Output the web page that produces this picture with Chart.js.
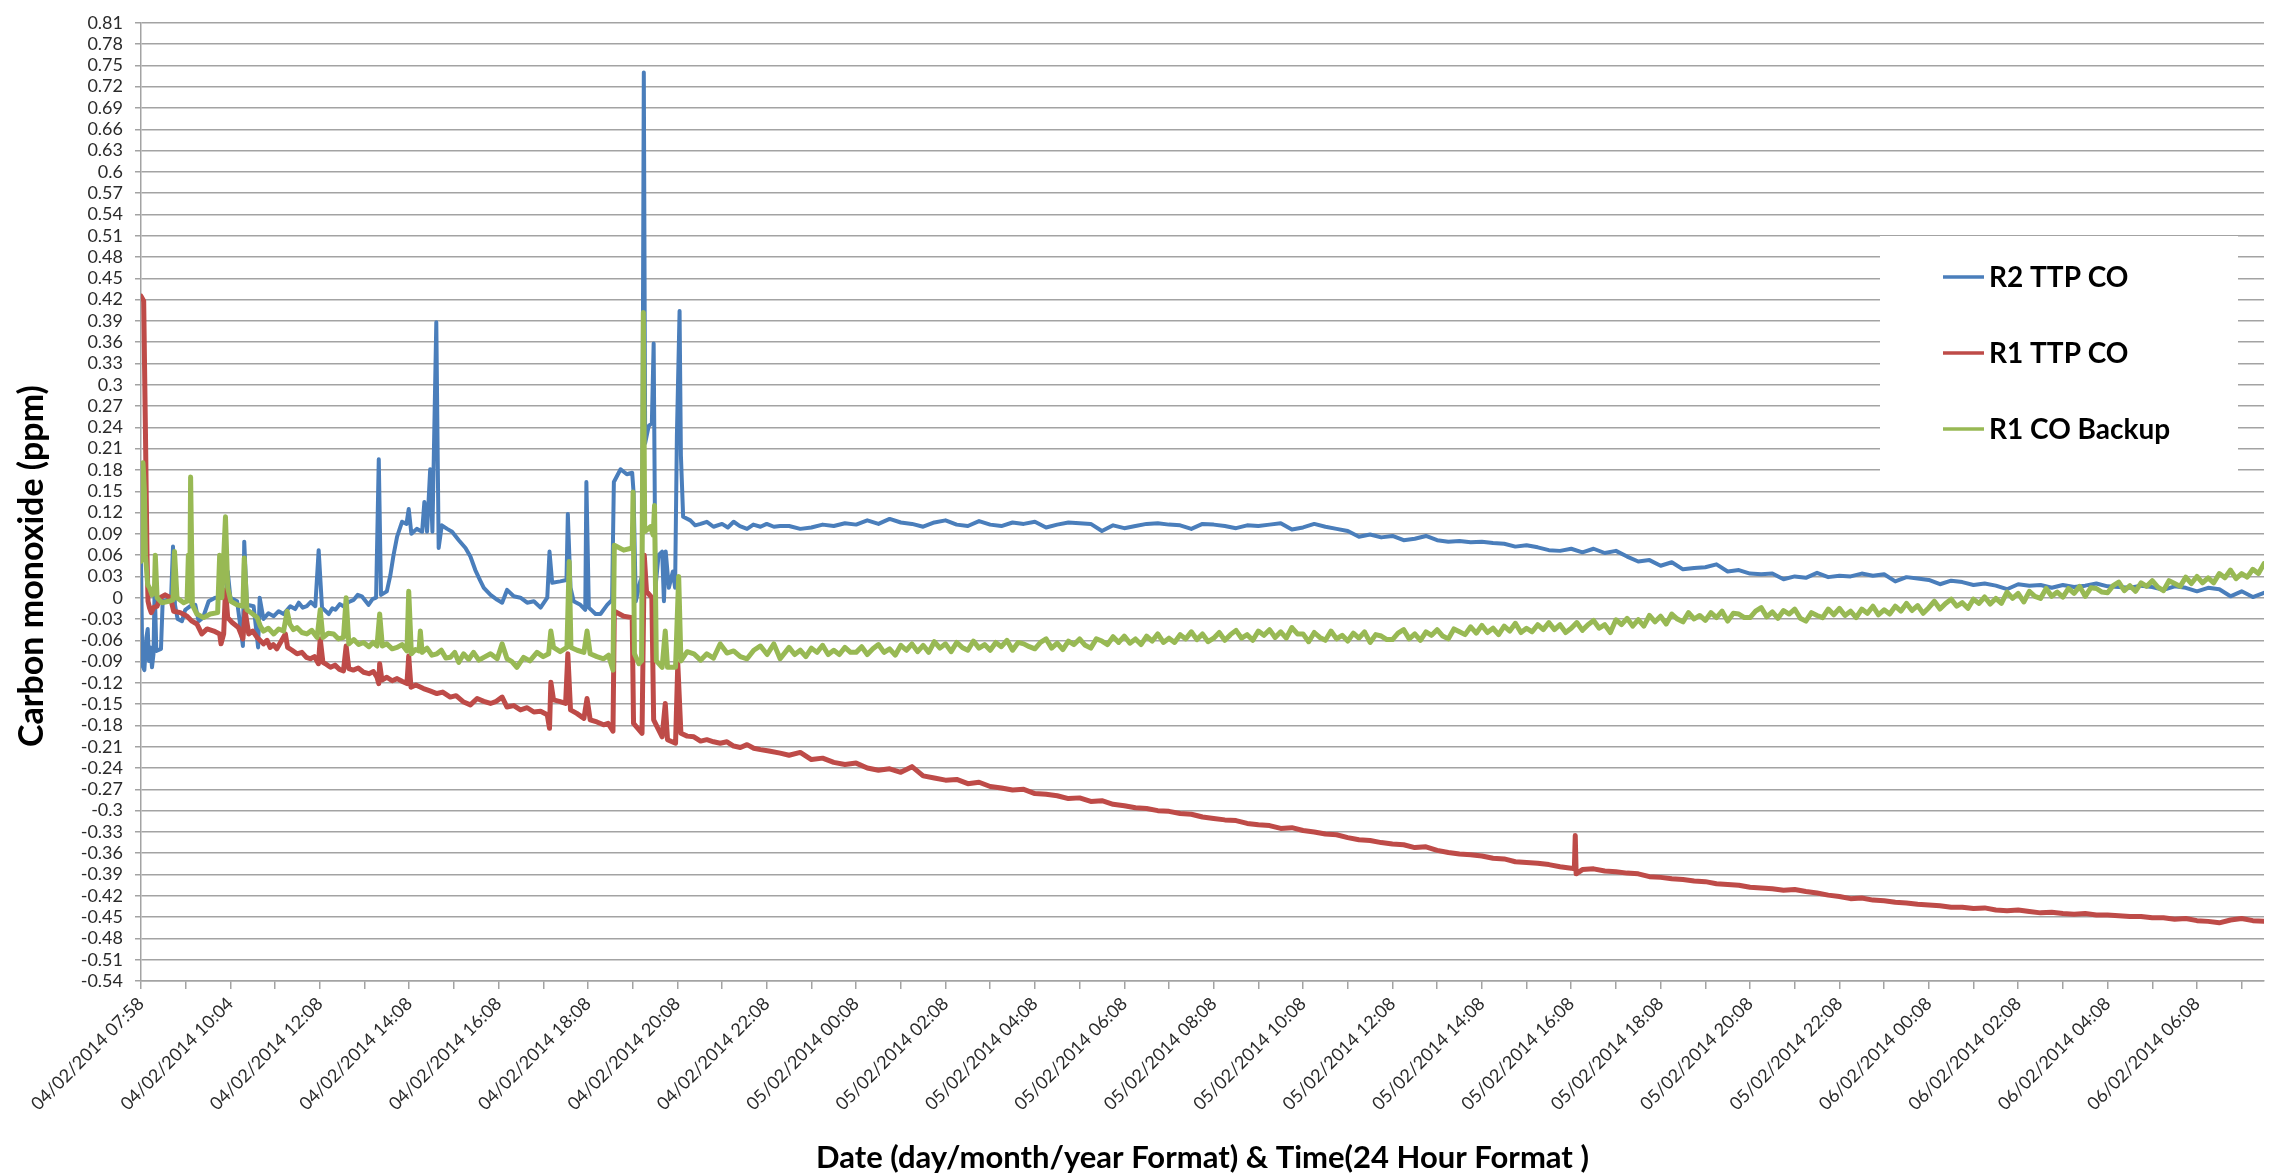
<!DOCTYPE html>
<html>
<head>
<meta charset="utf-8">
<title>Carbon monoxide</title>
<script src="https://cdn.jsdelivr.net/npm/chart.js@4.4.1/dist/chart.umd.min.js"></script>
<style>
    html, body { margin: 0; padding: 0; background: #fff; }
    #wrap { width: 2275px; height: 1176px; position: relative; }
</style>
</head>
<body>
<div id="wrap"><canvas id="chart"></canvas></div>
<script>
/**
 * CO readings.
 * x is the position on the category axis in tick units (one tick ~ one hour,
 * label every second tick), y is ppm.
 */

const xLabels = [
    '04/02/2014 07:58', '04/02/2014 10:04', '04/02/2014 12:08', '04/02/2014 14:08',
    '04/02/2014 16:08', '04/02/2014 18:08', '04/02/2014 20:08', '04/02/2014 22:08',
    '05/02/2014 00:08', '05/02/2014 02:08', '05/02/2014 04:08', '05/02/2014 06:08',
    '05/02/2014 08:08', '05/02/2014 10:08', '05/02/2014 12:08', '05/02/2014 14:08',
    '05/02/2014 16:08', '05/02/2014 18:08', '05/02/2014 20:08', '05/02/2014 22:08',
    '06/02/2014 00:08', '06/02/2014 02:08', '06/02/2014 04:08', '06/02/2014 06:08'
];

const seriesNames = ['R2 TTP CO', 'R1 TTP CO', 'R1 CO Backup'];

// first ~14 hours, irregular sampling so the spikes keep their shape
const r2Early = [
    [0, 0.051], [0.03, -0.095], [0.075, -0.102], [0.12, -0.056], [0.15, -0.044], [0.18, -0.089],
    [0.21, -0.070], [0.246, -0.098], [0.28, -0.079], [0.306, 0.018], [0.343, -0.075], [0.447, -0.072],
    [0.485, -0.005], [0.58, -0.003], [0.67, -0.005], [0.716, 0.072], [0.76, -0.010], [0.82, -0.030],
    [0.917, -0.033], [0.99, -0.017], [1.10, -0.012], [1.215, -0.010], [1.29, -0.033], [1.387, -0.028],
    [1.514, -0.005], [1.66, 0.0], [1.81, 0.0], [1.91, 0.007], [1.94, 0.037], [2.0, 0.0],
    [2.15, -0.005], [2.28, -0.068], [2.31, 0.079], [2.37, -0.010], [2.52, -0.012], [2.62, -0.070],
    [2.655, 0.0], [2.74, -0.030], [2.85, -0.022], [2.97, -0.026], [3.08, -0.019], [3.19, -0.023],
    [3.34, -0.012], [3.45, -0.016], [3.53, -0.007], [3.62, -0.014], [3.71, -0.012], [3.80, -0.006],
    [3.90, -0.012], [3.975, 0.067], [4.05, -0.014], [4.20, -0.023], [4.28, -0.015], [4.35, -0.017],
    [4.45, -0.009], [4.53, -0.012], [4.65, -0.006], [4.76, -0.003], [4.85, 0.004], [4.94, 0.002],
    [5.09, -0.010], [5.18, -0.002], [5.26, 0.0], [5.32, 0.195], [5.37, 0.004], [5.50, 0.009],
    [5.58, 0.032], [5.65, 0.060], [5.73, 0.086], [5.84, 0.107], [5.94, 0.104], [5.99, 0.125],
    [6.05, 0.090], [6.17, 0.097], [6.29, 0.093], [6.34, 0.135], [6.40, 0.093], [6.47, 0.181],
    [6.52, 0.093], [6.607, 0.388], [6.66, 0.070], [6.73, 0.102], [6.85, 0.097], [6.96, 0.093],
    [7.11, 0.081], [7.26, 0.070], [7.37, 0.058], [7.48, 0.039], [7.59, 0.024], [7.67, 0.014],
    [7.82, 0.004], [7.97, -0.003], [8.08, -0.007], [8.19, 0.011], [8.34, 0.002], [8.49, 0.0],
    [8.64, -0.007], [8.79, -0.005], [8.94, -0.014], [9.09, 0.0], [9.14, 0.065], [9.20, 0.021],
    [9.38, 0.023], [9.52, 0.025], [9.55, 0.118], [9.61, 0.014], [9.68, -0.005], [9.83, -0.010],
    [9.94, -0.017], [9.965, 0.163], [10.02, -0.014], [10.17, -0.023], [10.28, -0.023], [10.43, -0.010],
    [10.54, -0.003], [10.58, 0.163], [10.73, 0.181], [10.87, 0.174], [10.99, 0.176], [11.02, 0.149],
    [11.07, -0.005], [11.17, 0.023], [11.21, 0.030], [11.25, 0.740], [11.28, 0.218], [11.36, 0.242],
    [11.43, 0.246], [11.47, 0.358], [11.51, 0.014], [11.58, 0.060], [11.66, 0.065], [11.70, -0.005],
    [11.74, 0.065], [11.81, 0.014], [11.90, 0.037], [11.95, 0.014], [11.99, 0.228], [12.05, 0.404],
    [12.08, 0.200], [12.13, 0.114], [12.29, 0.109], [12.40, 0.102], [12.52, 0.104], [12.66, 0.107],
    [12.81, 0.100], [13.0, 0.104], [13.13, 0.099], [13.26, 0.107], [13.40, 0.101], [13.56, 0.097],
    [13.70, 0.103], [13.86, 0.100], [14.0, 0.104], [14.16, 0.100], [14.3, 0.101]
];

const r1Early = [
    [0, 0.425], [0.06, 0.418], [0.097, 0.246], [0.134, 0.060], [0.157, -0.005], [0.19, -0.014],
    [0.23, -0.021], [0.28, -0.014], [0.36, -0.012], [0.43, 0.0], [0.54, 0.004], [0.66, 0.0],
    [0.73, -0.019], [0.88, -0.021], [1.03, -0.026], [1.14, -0.033], [1.25, -0.037], [1.36, -0.051],
    [1.48, -0.044], [1.63, -0.047], [1.76, -0.051], [1.79, -0.065], [1.85, -0.051], [1.89, 0.011],
    [1.94, -0.028], [2.04, -0.035], [2.18, -0.042], [2.28, -0.058], [2.33, -0.019], [2.41, -0.051],
    [2.50, -0.047], [2.60, -0.056], [2.74, -0.065], [2.82, -0.060], [2.89, -0.070], [2.96, -0.066],
    [3.04, -0.072], [3.23, -0.051], [3.28, -0.070], [3.38, -0.074], [3.49, -0.079], [3.60, -0.077],
    [3.70, -0.084], [3.79, -0.086], [3.88, -0.083], [3.97, -0.093], [4.01, -0.058], [4.07, -0.091],
    [4.15, -0.094], [4.24, -0.098], [4.34, -0.095], [4.44, -0.101], [4.53, -0.103], [4.59, -0.068],
    [4.65, -0.100], [4.75, -0.102], [4.86, -0.099], [4.98, -0.105], [5.10, -0.107], [5.20, -0.104],
    [5.28, -0.112], [5.32, -0.121], [5.34, -0.093], [5.39, -0.116], [5.50, -0.112], [5.62, -0.117],
    [5.73, -0.114], [5.85, -0.118], [5.95, -0.121], [5.99, -0.082], [6.04, -0.126], [6.15, -0.123],
    [6.32, -0.128], [6.45, -0.131], [6.62, -0.135], [6.75, -0.133], [6.92, -0.140], [7.05, -0.138],
    [7.22, -0.147], [7.37, -0.151], [7.52, -0.142], [7.67, -0.146], [7.82, -0.149], [7.95, -0.146],
    [8.08, -0.140], [8.19, -0.154], [8.34, -0.152], [8.49, -0.158], [8.64, -0.155], [8.79, -0.161],
    [8.94, -0.160], [9.09, -0.165], [9.14, -0.184], [9.17, -0.119], [9.23, -0.144], [9.36, -0.146],
    [9.50, -0.149], [9.55, -0.079], [9.61, -0.158], [9.75, -0.163], [9.91, -0.170], [9.98, -0.142],
    [10.05, -0.172], [10.20, -0.175], [10.35, -0.179], [10.45, -0.177], [10.56, -0.188], [10.59, -0.019],
    [10.80, -0.026], [10.99, -0.028], [11.02, -0.177], [11.21, -0.191], [11.26, 0.060], [11.31, 0.009],
    [11.43, 0.0], [11.47, -0.172], [11.66, -0.196], [11.73, -0.149], [11.78, -0.200], [11.96, -0.205],
    [12.01, -0.093], [12.08, -0.191], [12.22, -0.195], [12.37, -0.196], [12.52, -0.202], [12.66, -0.200],
    [12.81, -0.203], [12.96, -0.205], [13.11, -0.203], [13.26, -0.209], [13.41, -0.211], [13.56, -0.207],
    [13.71, -0.212], [13.86, -0.214], [14.05, -0.216], [14.3, -0.219]
];

const backupEarly = [
    [0, 0.051], [0.045, 0.190], [0.075, 0.153], [0.10, 0.060], [0.15, 0.018], [0.19, 0.014],
    [0.246, 0.004], [0.30, 0.009], [0.32, 0.060], [0.36, 0.0], [0.47, -0.007], [0.62, -0.005],
    [0.716, -0.003], [0.75, 0.065], [0.805, 0.0], [0.955, -0.007], [1.03, -0.005], [1.06, 0.060],
    [1.09, -0.005], [1.11, 0.170], [1.15, -0.010], [1.25, -0.023], [1.40, -0.028], [1.55, -0.023],
    [1.715, -0.021], [1.76, 0.060], [1.81, 0.0], [1.89, 0.114], [1.94, 0.014], [2.01, -0.005],
    [2.15, -0.010], [2.28, -0.012], [2.31, 0.056], [2.37, -0.017], [2.48, -0.022], [2.60, -0.028],
    [2.67, -0.040], [2.74, -0.047], [2.85, -0.043], [2.97, -0.051], [3.08, -0.044], [3.19, -0.047],
    [3.27, -0.019], [3.33, -0.037], [3.41, -0.045], [3.49, -0.042], [3.60, -0.049], [3.71, -0.051],
    [3.82, -0.046], [3.94, -0.056], [4.01, -0.017], [4.07, -0.056], [4.19, -0.050], [4.31, -0.051],
    [4.42, -0.058], [4.53, -0.056], [4.59, 0.0], [4.65, -0.065], [4.76, -0.059], [4.87, -0.066],
    [4.98, -0.063], [5.10, -0.069], [5.19, -0.063], [5.28, -0.068], [5.34, -0.023], [5.40, -0.068],
    [5.50, -0.065], [5.62, -0.072], [5.73, -0.070], [5.84, -0.066], [5.95, -0.075], [5.99, 0.009],
    [6.05, -0.079], [6.14, -0.073], [6.22, -0.075], [6.25, -0.047], [6.29, -0.077], [6.40, -0.071],
    [6.51, -0.081], [6.62, -0.079], [6.72, -0.074], [6.82, -0.085], [6.92, -0.084], [7.02, -0.077],
    [7.11, -0.091], [7.22, -0.079], [7.33, -0.087], [7.44, -0.077], [7.56, -0.088], [7.67, -0.084],
    [7.82, -0.079], [7.97, -0.086], [8.08, -0.065], [8.19, -0.086], [8.30, -0.090], [8.41, -0.098],
    [8.56, -0.084], [8.70, -0.089], [8.86, -0.077], [9.00, -0.083], [9.12, -0.079], [9.17, -0.047],
    [9.23, -0.070], [9.38, -0.076], [9.53, -0.070], [9.58, 0.051], [9.62, -0.070], [9.76, -0.074],
    [9.91, -0.077], [9.98, -0.047], [10.05, -0.079], [10.20, -0.083], [10.35, -0.086], [10.46, -0.081],
    [10.56, -0.102], [10.59, 0.074], [10.80, 0.067], [10.99, 0.070], [11.01, 0.149], [11.04, -0.079],
    [11.14, -0.093], [11.20, -0.089], [11.24, 0.402], [11.27, 0.093], [11.40, 0.100], [11.46, 0.088],
    [11.49, 0.130], [11.53, -0.089], [11.66, -0.098], [11.73, -0.047], [11.78, -0.098], [11.96, -0.098],
    [12.03, 0.030], [12.08, -0.089], [12.22, -0.076], [12.37, -0.079], [12.52, -0.088], [12.66, -0.079],
    [12.81, -0.085], [12.96, -0.065], [13.11, -0.078], [13.26, -0.075], [13.41, -0.083], [13.56, -0.086],
    [13.71, -0.074], [13.86, -0.068], [14.01, -0.080], [14.16, -0.065], [14.3, -0.086]
];

// from 14.5 onwards the readings are regularly spaced
const TAIL_START = 14.5;
const TAIL_STEP = 0.25;         // R2 and R1, quarter tick
const BACKUP_TAIL_STEP = 0.125; // the backup sensor is much noisier, eighth tick

const r2Tail = [
    0.101, 0.097, 0.099, 0.103, 0.101, 0.105,
    0.103, 0.109, 0.104, 0.111, 0.106, 0.104, 0.100, 0.106,
    0.109, 0.103, 0.101, 0.108, 0.103, 0.101, 0.106, 0.104,
    0.107, 0.099, 0.103, 0.106, 0.105, 0.104, 0.094, 0.102,
    0.098, 0.101, 0.104, 0.105, 0.103, 0.102, 0.097, 0.104,
    0.103, 0.101, 0.098, 0.102, 0.101, 0.103, 0.105, 0.096,
    0.099, 0.104, 0.100, 0.097, 0.094, 0.086, 0.089, 0.085,
    0.087, 0.081, 0.083, 0.087, 0.081, 0.079, 0.080, 0.078,
    0.079, 0.077, 0.076, 0.072, 0.074, 0.071, 0.067, 0.066,
    0.069, 0.064, 0.069, 0.063, 0.066, 0.058, 0.051, 0.053,
    0.045, 0.050, 0.040, 0.042, 0.043, 0.047, 0.037, 0.039,
    0.034, 0.033, 0.034, 0.026, 0.030, 0.028, 0.035, 0.029,
    0.031, 0.030, 0.034, 0.031, 0.033, 0.023, 0.029, 0.027,
    0.025, 0.019, 0.024, 0.022, 0.018, 0.020, 0.017, 0.012,
    0.019, 0.017, 0.018, 0.014, 0.018, 0.015, 0.017, 0.020,
    0.016, 0.015, 0.014, 0.017, 0.015, 0.011, 0.016, 0.014,
    0.009, 0.014, 0.012, 0.002, 0.009, 0.001, 0.007
];

const r1Tail = [
    -0.222, -0.218, -0.228, -0.226, -0.232, -0.235,
    -0.233, -0.240, -0.243, -0.241, -0.246, -0.238, -0.251, -0.254,
    -0.257, -0.256, -0.262, -0.260, -0.266, -0.268, -0.271, -0.270,
    -0.276, -0.277, -0.279, -0.283, -0.282, -0.287, -0.286, -0.291,
    -0.293, -0.296, -0.297, -0.300, -0.301, -0.304, -0.305, -0.309,
    -0.311, -0.313, -0.314, -0.318, -0.320, -0.321, -0.325, -0.324,
    -0.328, -0.330, -0.333, -0.334, -0.338, -0.341, -0.342, -0.345,
    -0.347, -0.348, -0.352, -0.351, -0.356, -0.359, -0.361, -0.362,
    -0.364, -0.367, -0.368, -0.372, -0.373, -0.374, -0.376, -0.379,
    -0.381, -0.383, -0.382, -0.385, -0.386, -0.388, -0.389, -0.393,
    -0.394, -0.396, -0.397, -0.399, -0.400, -0.403, -0.404, -0.405,
    -0.408, -0.409, -0.410, -0.412, -0.411, -0.414, -0.416, -0.419,
    -0.421, -0.424, -0.423, -0.426, -0.427, -0.429, -0.430, -0.432,
    -0.433, -0.434, -0.436, -0.436, -0.438, -0.437, -0.440, -0.441,
    -0.440, -0.442, -0.444, -0.443, -0.445, -0.446, -0.445, -0.447,
    -0.447, -0.448, -0.449, -0.449, -0.451, -0.451, -0.453, -0.452,
    -0.455, -0.456, -0.458, -0.454, -0.452, -0.455, -0.456
];

// the lone R1 spike on the 5th around 16:00
const r1Spike = [[32.07, -0.382], [32.09, -0.335], [32.11, -0.389]];

const backupTail = [
    -0.070, -0.080, -0.074, -0.083, -0.071, -0.077, -0.067, -0.080, -0.074, -0.080, -0.070, -0.077,
    -0.077, -0.069, -0.080, -0.072, -0.066, -0.077, -0.072, -0.081, -0.067, -0.074, -0.065, -0.076, -0.067, -0.077, -0.062, -0.071,
    -0.065, -0.076, -0.063, -0.070, -0.074, -0.061, -0.071, -0.066, -0.074, -0.063, -0.069, -0.060, -0.074, -0.063, -0.065, -0.069,
    -0.072, -0.063, -0.058, -0.071, -0.064, -0.073, -0.061, -0.066, -0.058, -0.067, -0.071, -0.058, -0.061, -0.066, -0.055, -0.063,
    -0.054, -0.064, -0.058, -0.066, -0.054, -0.061, -0.051, -0.063, -0.057, -0.063, -0.052, -0.058, -0.048, -0.059, -0.051, -0.062,
    -0.057, -0.049, -0.060, -0.052, -0.046, -0.057, -0.052, -0.060, -0.047, -0.053, -0.045, -0.056, -0.048, -0.057, -0.042, -0.051,
    -0.051, -0.062, -0.049, -0.056, -0.060, -0.047, -0.058, -0.053, -0.061, -0.050, -0.057, -0.048, -0.063, -0.052, -0.054, -0.059,
    -0.059, -0.050, -0.045, -0.058, -0.051, -0.060, -0.048, -0.053, -0.045, -0.054, -0.058, -0.044, -0.048, -0.052, -0.041, -0.050,
    -0.039, -0.049, -0.043, -0.052, -0.040, -0.047, -0.036, -0.049, -0.043, -0.048, -0.038, -0.045, -0.035, -0.045, -0.038, -0.049,
    -0.043, -0.035, -0.046, -0.038, -0.032, -0.043, -0.038, -0.049, -0.031, -0.038, -0.029, -0.040, -0.031, -0.040, -0.025, -0.034,
    -0.026, -0.037, -0.023, -0.030, -0.034, -0.021, -0.030, -0.025, -0.032, -0.021, -0.028, -0.019, -0.033, -0.022, -0.023, -0.028,
    -0.028, -0.019, -0.014, -0.027, -0.020, -0.029, -0.018, -0.023, -0.016, -0.029, -0.033, -0.021, -0.025, -0.028, -0.016, -0.024,
    -0.015, -0.025, -0.019, -0.028, -0.016, -0.022, -0.012, -0.024, -0.017, -0.023, -0.012, -0.019, -0.008, -0.018, -0.011, -0.022,
    -0.014, -0.005, -0.016, -0.008, -0.002, -0.012, -0.007, -0.015, -0.002, -0.008, 0.001, -0.009, -0.001, -0.008, 0.008, -0.001,
    0.006, -0.006, 0.009, 0.002, -0.001, 0.013, 0.002, 0.008, 0.001, 0.013, 0.006, 0.016, 0.002, 0.014, 0.013, 0.008,
    0.007, 0.017, 0.022, 0.010, 0.017, 0.009, 0.021, 0.016, 0.024, 0.015, 0.010, 0.024, 0.020, 0.016, 0.029, 0.020,
    0.030, 0.021, 0.028, 0.021, 0.034, 0.028, 0.039, 0.027, 0.034, 0.029, 0.040, 0.034, 0.048
];

const Y_MIN = -0.54;
const Y_MAX = 0.81;
const Y_STEP = 0.03;
const X_MAX = 47.5;

const Y_TITLE = 'Carbon monoxide (ppm)';
const X_TITLE = 'Date (day/month/year Format) & Time(24 Hour Format )';

const colors = {
    r2: '#4A7EBB',
    r1: '#BE4B48',
    backup: '#98B954',
    grid: '#a3a3a3',
    text: '#2b2b2b',
};

/**
 * Joins the irregular early readings, the evenly spaced tail and any extras
 * into one sorted list of {x, y} points.
 */
function toPoints(early, tail, step, extra = []) {
    const points = early.map(([x, y]) => ({ x, y }));
    tail.forEach((y, i) => points.push({ x: TAIL_START + i * step, y }));
    extra.forEach(([x, y]) => points.push({ x, y }));
    return points.sort((a, b) => a.x - b.x);
}

function formatPpm(value) {
    const v = Math.round(value * 100) / 100;
    return String(v === 0 ? 0 : v);
}

// Excel-style legend box and axis titles, drawn on top of the plot
const overlayPlugin = {
    id: 'excelOverlay',
    afterDraw(chart) {
        const { ctx } = chart;
        ctx.save();

        // legend sits inside the plot and hides the gridlines behind it
        ctx.fillStyle = '#ffffff';
        ctx.fillRect(1880, 236, 358, 240);
        ctx.font = 'bold 28px Lato';
        ctx.textAlign = 'left';
        ctx.textBaseline = 'middle';
        chart.data.datasets.forEach((ds, i) => {
            const y = 277 + i * 76;
            ctx.strokeStyle = ds.borderColor;
            ctx.lineWidth = 3.5;
            ctx.beginPath();
            ctx.moveTo(1943, y);
            ctx.lineTo(1984, y);
            ctx.stroke();
            ctx.fillStyle = '#000000';
            ctx.fillText(ds.label, 1989, y + 1);
        });

        // axis titles
        ctx.fillStyle = '#000000';
        ctx.textAlign = 'center';
        ctx.textBaseline = 'alphabetic';
        ctx.font = 'bold 31px Lato';
        const area = chart.chartArea;
        ctx.fillText(X_TITLE, (area.left + area.right) / 2, 1168);

        ctx.font = 'bold 34px Lato';
        ctx.translate(43, 566);
        ctx.rotate(-Math.PI / 2);
        ctx.fillText(Y_TITLE, 0, 0);

        ctx.restore();
    }
};

function buildDatasets() {
    const common = {
        pointRadius: 0,
        tension: 0,
        fill: false,
        borderJoinStyle: 'round',
        borderCapStyle: 'round',
    };
    return [
        { ...common, label: seriesNames[0], data: toPoints(r2Early, r2Tail, TAIL_STEP), borderColor: colors.r2, borderWidth: 4, order: 3 },
        { ...common, label: seriesNames[1], data: toPoints(r1Early, r1Tail, TAIL_STEP, r1Spike), borderColor: colors.r1, borderWidth: 5, order: 2 },
        { ...common, label: seriesNames[2], data: toPoints(backupEarly, backupTail, BACKUP_TAIL_STEP), borderColor: colors.backup, borderWidth: 5, order: 1 },
    ];
}

const tickFont = { family: 'Lato', size: 18 };

new Chart(document.getElementById('chart'), {
    type: 'line',
    data: { datasets: buildDatasets() },
    plugins: [overlayPlugin],
    options: {
        responsive: true,
        maintainAspectRatio: false,
        animation: false,
        devicePixelRatio: 1,
        parsing: false,
        layout: { padding: { top: 13, right: 11, left: 0, bottom: 0 } },
        plugins: {
            legend: { display: false },
            tooltip: { enabled: false },
        },
        scales: {
            x: {
                type: 'linear',
                min: 0,
                max: X_MAX,
                afterFit: (scale) => { scale.height = 195; },
                grid: {
                    drawOnChartArea: false,
                    drawTicks: true,
                    tickLength: 8,
                    color: colors.grid,
                    lineWidth: 1.5,
                },
                border: { color: colors.grid, width: 1.5 },
                ticks: {
                    stepSize: 1,
                    autoSkip: false,
                    includeBounds: false,
                    minRotation: 45,
                    maxRotation: 45,
                    padding: 4,
                    color: colors.text,
                    font: tickFont,
                    callback: (value) => (value % 2 === 0 ? (xLabels[value / 2] || '') : ''),
                },
            },
            y: {
                min: Y_MIN,
                max: Y_MAX,
                afterFit: (scale) => { scale.width = 141; },
                grid: {
                    color: colors.grid,
                    lineWidth: 1.5,
                    tickLength: 6,
                },
                border: { color: colors.grid, width: 1.5 },
                ticks: {
                    stepSize: Y_STEP,
                    autoSkip: false,
                    padding: 12,
                    color: colors.text,
                    font: tickFont,
                    callback: formatPpm,
                },
            },
        },
    },
});
</script>
</body>
</html>
